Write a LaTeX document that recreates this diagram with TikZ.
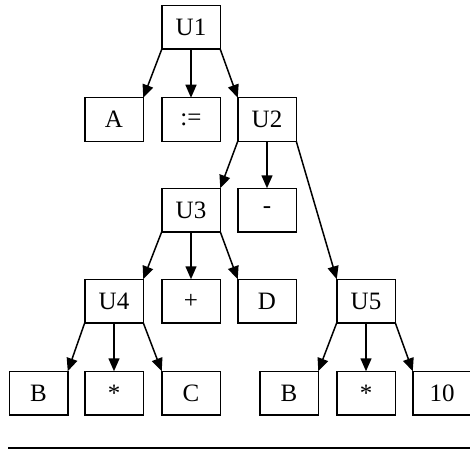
\documentclass[tikz,border=0pt]{standalone}
\usepackage{fontspec}
\setmainfont{Liberation Serif}
\usetikzlibrary{arrows.meta}
\tikzset{
  box/.style = {draw, line width = 1.5pt, minimum width = 58.5pt, minimum height = 43.5pt, inner sep = 0pt, outer sep = 0pt, font = \fontsize{25}{29}\selectfont},
  edge/.style = {line width = 1.5pt, -{Triangle[length = 13pt, width = 11pt]}}
}
\begin{document}
\begin{tikzpicture}[x = 1pt, y = -1pt]
\useasboundingbox (0, 0) rectangle (470, 449);
\clip (0, 0) rectangle (470, 449);
\node[box] (U1) at (191, 27.5) {U1};
\node[box] (A) at (114, 119.5) {A};
\node[box] (assign) at (191, 119.5) {:=};
\node[box] (U2) at (267, 119.5) {U2};
\node[box] (U3) at (191, 210) {U3};
\node[box] (minus) at (267, 210) {-};
\node[box] (U4) at (114, 301) {U4};
\node[box] (plus) at (191, 301) {+};
\node[box] (D) at (267, 301) {D};
\node[box] (U5) at (366, 301) {U5};
\node[box] (B1) at (38.5, 393) {B};
\node[box] (times1) at (114, 393) {*};
\node[box] (C) at (191, 393) {C};
\node[box] (B2) at (289, 393) {B};
\node[box] (times2) at (366, 393) {*};
\node[box] (ten) at (442, 393) {10};
\draw[edge] (U1.south west) -- (A.north east);
\draw[edge] (U1.south) -- (assign.north);
\draw[edge] (U1.south east) -- (U2.north west);
\draw[edge] (U2.south west) -- (U3.north east);
\draw[edge] (U2.south) -- (minus.north);
\draw[edge] (U2.south east) -- (U5.north west);
\draw[edge] (U3.south west) -- (U4.north east);
\draw[edge] (U3.south) -- (plus.north);
\draw[edge] (U3.south east) -- (D.north west);
\draw[edge] (U4.south west) -- (B1.north east);
\draw[edge] (U4.south) -- (times1.north);
\draw[edge] (U4.south east) -- (C.north west);
\draw[edge] (U5.south west) -- (B2.north east);
\draw[edge] (U5.south) -- (times2.north);
\draw[edge] (U5.south east) -- (ten.north west);
\coordinate (ruleL) at (8, 447.5);
\coordinate (ruleR) at (470, 447.5);
\draw[line width = 2pt] (ruleL) -- (ruleR);
\end{tikzpicture}
\end{document}
